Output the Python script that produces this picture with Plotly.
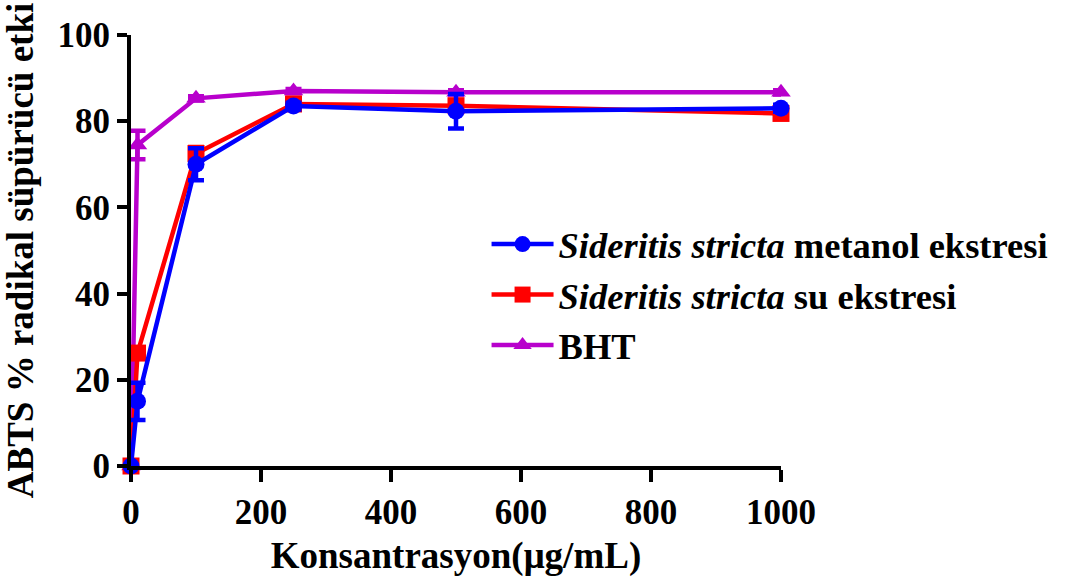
import plotly.graph_objects as go

# Concentrations (µg/mL)
konsantrasyon = [0, 10, 100, 250, 500, 1000]

# ABTS radical scavenging (%) with standard deviations
metanol = [0, 15.0, 70.0, 83.5, 82.3, 83.0]
metanol_sd = [0, 4.3, 3.7, 0.8, 4.0, 0.8]

su = [0, 26.2, 72.5, 84.0, 83.6, 81.8]
su_sd = [0, 0.8, 1.5, 0.8, 0.8, 0.8]

bht = [0, 74.5, 85.3, 87.0, 86.7, 86.7]
bht_sd = [0, 3.3, 0.5, 0.5, 0.5, 0.5]

FONT = "Liberation Serif"

# drawn bottom-to-top: BHT, water extract, methanol extract (methanol on top)
series = [
    ("<b>BHT</b>", bht, bht_sd, "#B800CC", "triangle-up"),
    ("<b><i>Sideritis stricta</i> su ekstresi</b>", su, su_sd, "#FF0000", "square"),
    ("<b><i>Sideritis stricta</i> metanol ekstresi</b>", metanol, metanol_sd, "#0000FF", "circle"),
]

fig = go.Figure()
for name, vals, sd, color, symbol in series:
    fig.add_trace(go.Scatter(
        x=konsantrasyon, y=vals, name=name, mode="lines+markers",
        line=dict(color=color, width=4.5),
        marker=dict(color=color, symbol=symbol, size=17),
        error_y=dict(type="data", array=sd, visible=True, color=color,
                     thickness=4.5, width=8),
        cliponaxis=False,
    ))

fig.update_layout(
    width=1087, height=585,
    margin=dict(l=131, r=306, t=35, b=119),
    plot_bgcolor="white", paper_bgcolor="white",
    font=dict(family=FONT, color="black", size=34),
    showlegend=True,
    legend=dict(
        x=0.547, y=0.397, xanchor="left", yanchor="middle",
        bgcolor="rgba(0,0,0,0)", itemwidth=62, tracegroupgap=0,
        traceorder="reversed", borderwidth=0,
        font=dict(family=FONT, size=36.5, color="black"),
    ),
)
fig.update_xaxes(
    range=[0, 1000], tickvals=[0, 200, 400, 600, 800, 1000],
    showgrid=False, zeroline=False,
    showline=True, linecolor="black", linewidth=4,
    ticks="outside", ticklen=12, tickwidth=4, tickcolor="black",
    tickfont=dict(family=FONT, size=35, color="black", weight="bold"),
    title=dict(text="Konsantrasyon(μg/mL)",
               font=dict(family=FONT, size=37, color="black", weight="bold"), standoff=12),
)
fig.update_yaxes(
    range=[0, 100], tickvals=[0, 20, 40, 60, 80, 100],
    showgrid=False, zeroline=False,
    showline=True, linecolor="black", linewidth=4,
    ticks="outside", ticklen=10, tickwidth=4, tickcolor="black",
    tickfont=dict(family=FONT, size=35, color="black", weight="bold"),
    title=dict(text="ABTS % radikal süpürücü etki",
               font=dict(family=FONT, size=37, color="black", weight="bold"), standoff=14),
)

fig.write_html("out.html")
